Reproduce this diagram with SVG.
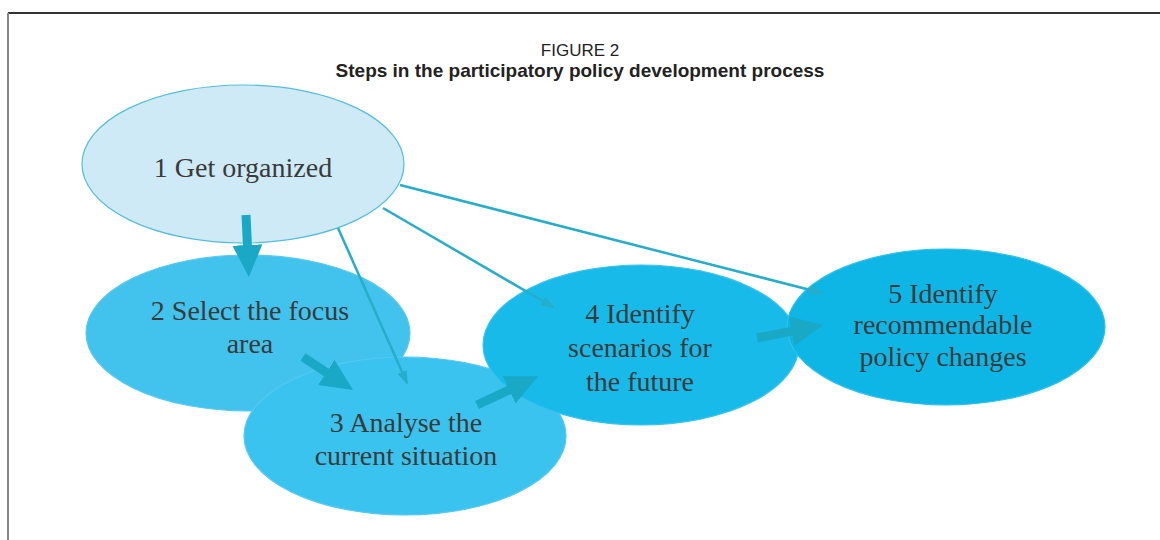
<svg xmlns="http://www.w3.org/2000/svg" width="1160" height="540" viewBox="0 0 1160 540">
<style>
.t{font-family:"Liberation Serif","Times New Roman",serif;font-size:28px;fill:#3a3a3a;text-anchor:middle}
.h1{font-family:"Liberation Sans",Arial,sans-serif;font-size:17px;fill:#222;text-anchor:middle}
.h2{font-family:"Liberation Sans",Arial,sans-serif;font-size:19px;font-weight:bold;fill:#222;text-anchor:middle}
.thick{stroke:#19a9c6;stroke-width:9;fill:none}
.thin{stroke:#26adca;stroke-width:2.5;fill:none}
.e{stroke-width:1.2}
</style>
<defs>
<marker id="bh" markerUnits="userSpaceOnUse" markerWidth="34" markerHeight="32" refX="2" refY="15" orient="auto">
<path d="M0,0 L32,15 L0,30 z" fill="#19a9c6"/>
</marker>
<marker id="sh" markerUnits="userSpaceOnUse" markerWidth="16" markerHeight="12" refX="12" refY="5" orient="auto">
<path d="M0,0 L14,5 L0,10 z" fill="#26adca"/>
</marker>
</defs>
<rect width="1160" height="540" fill="#fff"/>
<line x1="8" y1="13" x2="1160" y2="13" stroke="#333" stroke-width="2"/>
<line x1="8" y1="13" x2="8" y2="540" stroke="#888" stroke-width="2"/>
<text class="h1" x="580" y="56">FIGURE 2</text>
<text class="h2" x="580" y="77">Steps in the participatory policy development process</text>

<g id="n1"><ellipse class="e" cx="243" cy="164" rx="161" ry="79" fill="#cdeaf6" stroke="#55bdd9"/><text class="t" x="243" y="177">1 Get organized</text></g>
<g id="n2"><ellipse class="e" cx="248" cy="333" rx="162" ry="78" fill="#42c3ed" stroke="#58c9ee"/><text class="t" x="250" y="320">2 Select the focus</text><text class="t" x="250" y="353">area</text></g>
<g id="n3"><ellipse class="e" cx="405" cy="436" rx="161" ry="79" fill="#3bc3ef" stroke="#52c9f0"/><text class="t" x="406" y="432">3 Analyse the</text><text class="t" x="406" y="465">current situation</text></g>
<g id="n4"><ellipse class="e" cx="641" cy="345" rx="158" ry="80" fill="#18baea" stroke="#38c3ec"/><text class="t" x="640" y="323">4 Identify</text><text class="t" x="640" y="357">scenarios for</text><text class="t" x="640" y="391">the future</text></g>
<g id="n5"><ellipse class="e" cx="946" cy="327" rx="159" ry="78" fill="#0eb6e6" stroke="#30c0ea"/><text class="t" x="943" y="303">5 Identify</text><text class="t" x="943" y="334">recommendable</text><text class="t" x="943" y="366">policy changes</text></g>

<g id="connectors">
<line class="thick" x1="246" y1="215" x2="247.5" y2="247" marker-end="url(#bh)"/>
<line class="thick" x1="303" y1="357" x2="328" y2="373.5" marker-end="url(#bh)"/>
<line class="thick" x1="477" y1="405" x2="511" y2="389" marker-end="url(#bh)"/>
<line class="thick" x1="757" y1="338" x2="793.6" y2="330.8" marker-end="url(#bh)"/>
<line class="thin" x1="338" y1="228" x2="407" y2="383" marker-end="url(#sh)"/>
<line class="thin" x1="383" y1="208" x2="553" y2="307" marker-end="url(#sh)"/>
<line class="thin" x1="400" y1="185" x2="822" y2="293" marker-end="url(#sh)"/>
</g>
</svg>
